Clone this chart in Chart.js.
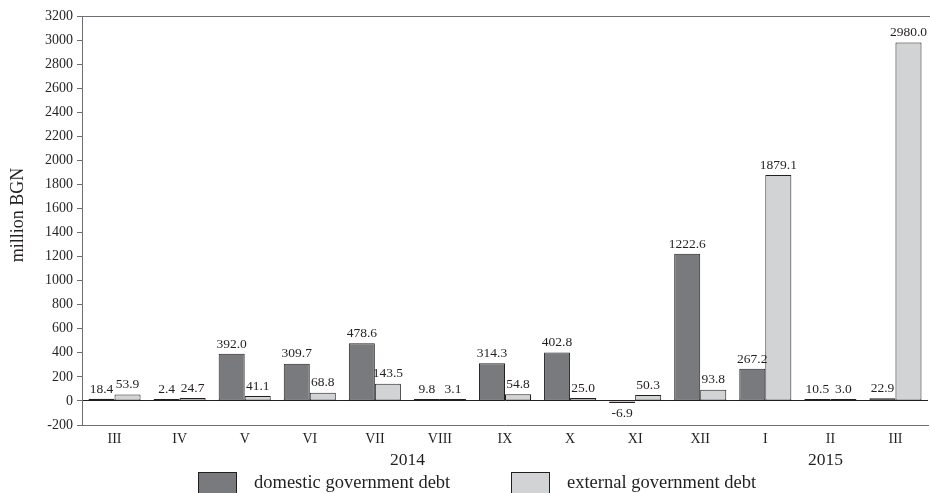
<!DOCTYPE html>
<html>
<head>
<meta charset="utf-8">
<script src="https://cdn.jsdelivr.net/npm/chart.js@4"></script>
<style>
  html, body { margin: 0; padding: 0; background: #fff; }
  #wrap { width: 930px; height: 493px; position: relative; }
</style>
</head>
<body>
<div id="wrap"><canvas id="grafica"></canvas></div>
<script>
// months (III 2014 .. III 2015)
const meses = ["III", "IV", "V", "VI", "VII", "VIII", "IX", "X", "XI", "XII", "I", "II", "III"];
const deudaInterna = [18.4, 2.4, 392.0, 309.7, 478.6, 9.8, 314.3, 402.8, -6.9, 1222.6, 267.2, 10.5, 22.9];
const deudaExterna = [53.9, 24.7, 41.1, 68.8, 143.5, 3.1, 54.8, 25.0, 50.3, 93.8, 1879.1, 3.0, 2980.0];
const anios = ["2014", "2015"];
const nombres = ["domestic government debt", "external government debt"];

const colores = {
  interna: "#797a7e",
  externa: "#d2d3d5",
  borde: "#231f20",
  texto: "#231f20"
};
const fuente = "'Liberation Serif', 'Times New Roman', serif";

// etiquetas, año, leyenda, título del eje
const extras = {
  id: "extras",
  afterDraw(chart) {
    const ctx = chart.ctx;
    const area = chart.chartArea;
    const x = chart.scales.x;
    ctx.save();

    // línea superior
    ctx.strokeStyle = "#6d6e71";
    ctx.lineWidth = 1;
    ctx.beginPath();
    ctx.moveTo(area.left, area.top + 0.5);
    ctx.lineTo(chart.width, area.top + 0.5);
    ctx.stroke();

    // valores sobre las barras
    ctx.fillStyle = colores.texto;
    ctx.font = "13.5px " + fuente;
    ctx.textAlign = "center";
    chart.data.datasets.forEach((ds, i) => {
      chart.getDatasetMeta(i).data.forEach((bar, j) => {
        const v = ds.data[j];
        if (v >= 0) {
          ctx.textBaseline = "bottom";
          ctx.fillText(v.toFixed(1), bar.x, bar.y - 3);
        } else {
          ctx.textBaseline = "top";
          ctx.fillText(v.toFixed(1), bar.x, bar.y + 4);
        }
      });
    });

    // años
    ctx.font = "17.5px " + fuente;
    ctx.textBaseline = "middle";
    ctx.fillText(anios[0], (x.getPixelForValue(4) + x.getPixelForValue(5)) / 2, 460);
    ctx.fillText(anios[1], x.getPixelForValue(11) - 5, 460);

    // leyenda
    const posX = [198, 511];
    ctx.font = "18.5px " + fuente;
    ctx.textAlign = "left";
    chart.data.datasets.forEach((ds, i) => {
      ctx.fillStyle = ds.backgroundColor;
      ctx.strokeStyle = colores.borde;
      ctx.fillRect(posX[i], 472, 38, 24);
      ctx.strokeRect(posX[i] + 0.5, 472.5, 38, 24);
      ctx.fillStyle = colores.texto;
      ctx.fillText(ds.label, posX[i] + 56, 483);
    });

    // título eje Y
    ctx.translate(18, 215);
    ctx.rotate(-Math.PI / 2);
    ctx.textAlign = "center";
    ctx.font = "18px " + fuente;
    ctx.fillText("million BGN", 0, 0);
    ctx.restore();
  }
};

const ctx = document.getElementById("grafica").getContext("2d");
new Chart(ctx, {
  type: "bar",
  data: {
    labels: meses,
    datasets: [
      {
        label: nombres[0],
        data: deudaInterna,
        backgroundColor: colores.interna,
        borderColor: colores.borde,
        borderWidth: 1,
        borderSkipped: false,
        minBarLength: 2
      },
      {
        label: nombres[1],
        data: deudaExterna,
        backgroundColor: colores.externa,
        borderColor: colores.borde,
        borderWidth: 1,
        borderSkipped: false,
        minBarLength: 2
      }
    ]
  },
  options: {
    responsive: true,
    maintainAspectRatio: false,
    animation: false,
    layout: { padding: { top: 16, right: 2, left: 0, bottom: 0 } },
    datasets: { bar: { categoryPercentage: 0.8, barPercentage: 1.0 } },
    plugins: {
      legend: { display: false },
      tooltip: { enabled: false }
    },
    scales: {
      x: {
        afterFit: (s) => { s.height = 68; },
        grid: { display: false, drawTicks: false },
        border: { color: "#6d6e71", width: 1 },
        ticks: { color: colores.texto, font: { family: fuente, size: 14 }, padding: 6 }
      },
      y: {
        min: -200,
        max: 3200,
        afterFit: (s) => { s.width = 82; },
        border: { color: "#6d6e71", width: 1 },
        grid: {
          drawOnChartArea: true,
          color: (c) => (c.tick && c.tick.value === 0 ? "#231f20" : "rgba(0,0,0,0)"),
          tickColor: "#6d6e71",
          tickLength: 5
        },
        ticks: {
          stepSize: 200,
          color: colores.texto,
          font: { family: fuente, size: 14 },
          padding: 4,
          callback: (v) => String(v)
        }
      }
    }
  },
  plugins: [extras]
});
</script>
</body>
</html>
